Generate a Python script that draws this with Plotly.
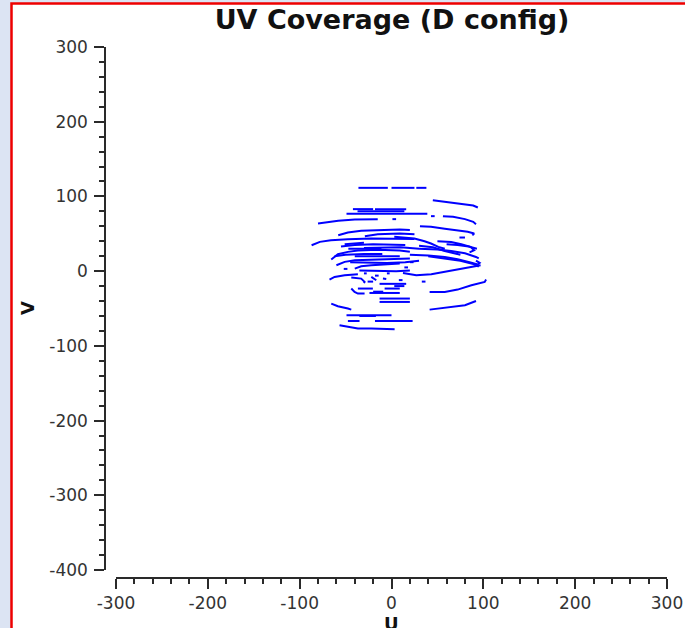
import plotly.graph_objects as go

# ---------------- data (u, v) segments ----------------
seg_u = [
    [-36, -4], [0, 25], [27, 38],
    [45, 58, 69, 80, 89, 94],
    [-42, -20], [-18, 16], [-37, 14], [-49, 39], [43, 47],
    [56, 67, 80, 89, 92],
    [-80, -69, -58, -40, -15], [1, 5],
    [31, 43, 58, 72, 83, 90, 88],
    [-58, -47.5, -33, -16.6, 9, 20],
    [-87, -78, -66, -47.5, -22, 9, 25],
    [-51, -40, -30],
    [-29, -15, 9, 25],
    [-65.6, -58.4, -47.5, -36.6, -15, 9, 20],
    [-47, -11],
    [-60, -51, -40, -22, 9, 20],
    [-40, 9],
    [-40, -33, -22, -7.5, 9],
    [-67.5, -62, -51, -36.6],
    [-43.8, -33, -29.3, -30],
    [-22, -16.6], [-9.3, -5.7],
    [-13, 16],
    [-43.8, -40.2, -36.6, -29.3],
    [-24, 9], [-20, -9],
    [-36.6, -20.3], [-7.5, 9], [3, 14],
    [-13, 20], [-13, 20],
    [-65.6, -58.4, -47.5, -43.8],
    [-49, 0], [-35, -17],
    [-47.5, -34.8], [-18, 23],
    [-56.6, -47.5, -36.6, -22, 3.4],
    [41.5, 58, 72, 87, 101.5, 103],
    [41.5, 50.6, 65, 80, 92],
    [12.5, 27, 43.3, 58, 72.4, 87, 97],
    [20, 40, 58, 72, 85, 94, 96, 92],
    [3, 14, 25, 36, 43, 51, 58],
    [50, 65, 76, 86, 90, 85],
    [30, 45, 58, 68, 75],
    [74, 80],
    [-55, -40, -20, 0, 15],
    [-30, -10, 10, 30],
    [-62, -50, -30, -10],
    [-45, -25, -5, 15, 30],
    [-35, -15, 5, 20],
    [-30, -27], [-5, -2], [14, 18], [20, 24], [-52, -48], [-18, -14],
    [30, 50, 65, 80, 92, 95],
    [40, 60, 75, 88, 95],
    [60, 72, 84, 93],
    [-26, -20], [8, 12], [33, 37],
]
seg_v = [
    [111.5, 111.5], [111.5, 111.5], [111.5, 111.5],
    [95, 93.2, 91.4, 89.7, 87.9, 85.2],
    [83, 83], [83, 83], [80, 80], [76.7, 76.7], [73.6, 73.6],
    [73.6, 72.7, 69.6, 66, 62.9],
    [63.8, 66, 67.3, 69.1, 69.6], [69.6, 69.6],
    [60.2, 59.3, 56.6, 54.8, 52.6, 50.4, 48],
    [48.1, 51.7, 53.9, 54.8, 55.7, 55],
    [34.7, 39.2, 41.4, 42.8, 43.7, 43.7, 43],
    [36, 37.5, 38],
    [46.8, 49.5, 50.4, 49.5],
    [15.5, 22.6, 25.8, 27.5, 28.5, 27.5, 26],
    [30, 30],
    [7.9, 12.4, 14.6, 15.5, 16.8, 17],
    [20, 20],
    [3.4, 6.6, 7.9, 9.2, 10.1],
    [-11.3, -7.7, -5.5, -4.1],
    [-8.6, -10, -14.4, -16],
    [-7.7, -12.2], [-10, -10.5],
    [-17, -17],
    [-23.3, -27.8, -30, -30],
    [-29.2, -29.2], [-27.5, -27.5],
    [-23.3, -23.3], [-23.3, -23.3], [-20, -20],
    [-36.7, -36.7], [-41.2, -41.2],
    [-43.4, -47, -50.1, -51.5],
    [-59, -59], [-60, -60],
    [-66.7, -66.7], [-66.7, -66.7],
    [-72.5, -74.7, -76.9, -76.9, -77.8],
    [-27.8, -27.8, -24.7, -18.9, -14.4, -11.3],
    [-51.5, -50.1, -47.9, -45.7, -39.9],
    [-2.4, -5.5, -4.1, -1, 2.1, 5.7, 7.9],
    [22, 21, 19, 16, 12, 9, 11, 14],
    [46, 45, 43.7, 40, 37, 32.5, 30],
    [40, 39, 36, 32.5, 28, 25],
    [34, 32, 27, 24, 22],
    [45, 45],
    [33, 35, 36, 36, 35],
    [31, 32, 32, 30],
    [20, 22, 23, 23],
    [12, 11, 11, 12, 14],
    [1, 0, 0, 1],
    [-3, -3], [-3, -3], [5, 5], [12, 12], [3, 3], [-6, -6],
    [30, 29, 27, 24, 19, 17],
    [20, 17, 14, 10, 6],
    [36, 35, 33, 30],
    [-14, -14], [-12, -12], [-14, -14],
]

x_tickvals = [-300, -200, -100, 0, 100, 200, 300]
x_ticktext = ["-300", "-200", "-100", "0", "100", "200", "300"]
y_tickvals = [-400, -300, -200, -100, 0, 100, 200, 300]
y_ticktext = ["-400", "-300", "-200", "-100", "0", "100", "200", "300"]

# ---------------- build traces ----------------
xs, ys = [], []
for su, sv in zip(seg_u, seg_v):
    xs += su + [None]
    ys += sv + [None]

fig = go.Figure()
fig.add_trace(go.Scatter(x=xs, y=ys, mode="lines",
                         line=dict(color="#0000ff", width=2),
                         connectgaps=False, hoverinfo="skip",
                         showlegend=False))

W, H = 685, 628
L, R, T, B = 105, 18, 47, 50
PW, PH = W - L - R, H - T - B


def px2x(px):
    return (px - L) / PW


def py2y(py):
    return (H - B - py) / PH


axis_font = dict(family="DejaVu Sans", size=17, color="#333333")
common = dict(showgrid=False, zeroline=False, showline=True,
              linecolor="#2a2a2a", linewidth=1.5, ticks="outside",
              ticklen=10, tickwidth=1.5, tickcolor="#2a2a2a",
              tickfont=axis_font, anchor="free", position=0,
              automargin=False, fixedrange=True)

fig.update_layout(
    width=W, height=H,
    margin=dict(l=L, r=R, t=T, b=B, pad=0, autoexpand=False),
    paper_bgcolor="#dce4f3",
    plot_bgcolor="white",
    showlegend=False,
    title=dict(text="<b>UV Coverage (D config)</b>",
               font=dict(family="DejaVu Sans", size=27, color="#111111"),
               x=392 / W, xref="container", xanchor="center",
               y=1 - 19.5 / H, yref="container", yanchor="middle"),
    xaxis=dict(domain=[px2x(116), px2x(667)], range=[-300, 300],
               tickmode="array", tickvals=x_tickvals, ticktext=x_ticktext,
               minor=dict(tickmode="linear", tick0=0, dtick=20, ticks="outside",
                          ticklen=5, tickwidth=1.5, tickcolor="#2a2a2a"),
               **common),
    yaxis=dict(domain=[py2y(570), 1], range=[-400, 300],
               tickmode="array", tickvals=y_tickvals, ticktext=y_ticktext,
               ticklabelstandoff=3,
               minor=dict(tickmode="linear", tick0=0, dtick=20, ticks="outside",
                          ticklen=5, tickwidth=1.5, tickcolor="#2a2a2a"),
               **common),
    shapes=[
        dict(type="rect", xref="paper", yref="paper", layer="below",
             x0=px2x(11.5), x1=px2x(720), y0=py2y(3.5), y1=py2y(700),
             fillcolor="white", line=dict(color="#ee0000", width=2.5)),
    ],
    annotations=[
        dict(text="<b>U</b>", xref="paper", yref="paper",
             x=px2x(391.5), y=py2y(623), xanchor="center", yanchor="middle",
             showarrow=False,
             font=dict(family="DejaVu Sans", size=18, color="#111111")),
        dict(text="<b>V</b>", xref="paper", yref="paper",
             x=px2x(27), y=py2y(308), xanchor="center", yanchor="middle",
             textangle=-90, showarrow=False,
             font=dict(family="DejaVu Sans", size=18, color="#111111")),
    ],
)

fig.write_html("out.html")
